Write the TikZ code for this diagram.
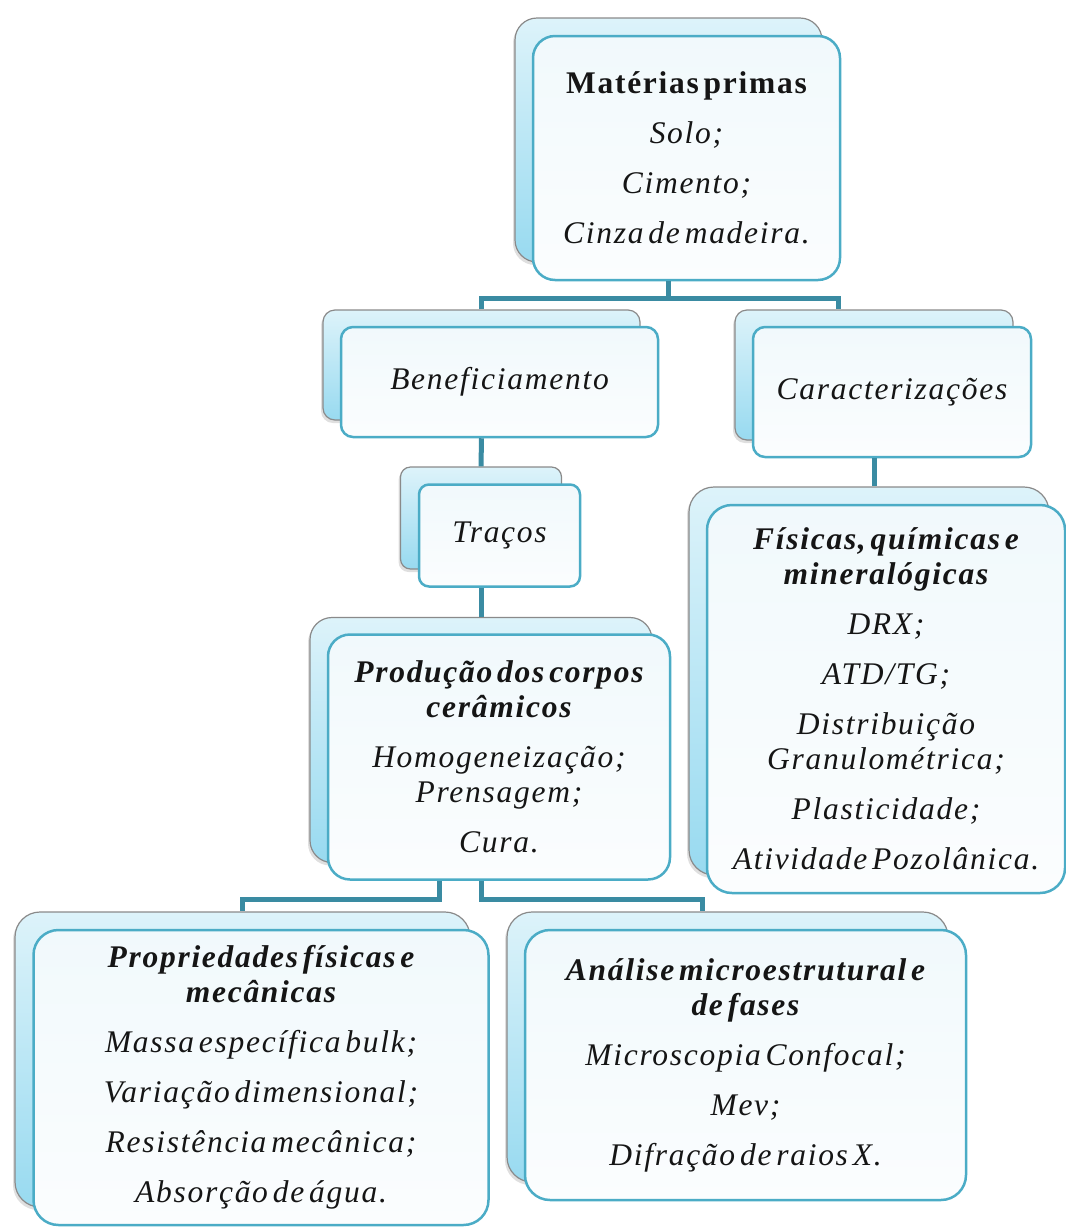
\documentclass[tikz,border=0pt]{standalone}
\usepackage{fontspec}
\setmainfont{Liberation Serif}[LetterSpace=5.5, WordSpace=0.5]
\usetikzlibrary{shadows,calc}
\definecolor{conncol}{HTML}{3A8BA2}
\definecolor{frontline}{HTML}{4BACC6}
\definecolor{frontTop}{HTML}{F1F9FC}
\definecolor{frontBot}{HTML}{FBFDFE}
\definecolor{backline}{HTML}{8A8A8A}
\definecolor{backTop}{HTML}{DDF3FA}
\definecolor{backBot}{HTML}{98DAF0}
\definecolor{txt}{HTML}{151515}
\begin{document}
\begin{tikzpicture}[x=1pt,y=-1pt,
  backbox/.style={draw=backline, line width=1.2pt, top color=backTop, bottom color=backBot,
    inner sep=0pt, drop shadow={shadow xshift=-2pt, shadow yshift=-3pt, opacity=0.25}},
  frontbox/.style={draw=frontline, line width=2.5pt, top color=frontTop, bottom color=frontBot,
    inner sep=0pt, align=center, text=txt, font=\fontsize{31.5}{35}\selectfont\itshape},
  conn/.style={draw=conncol, line width=5pt}
]
\useasboundingbox (0,0) rectangle (1066,1227);

% Matérias primas
\node[backbox, rounded corners=22pt, minimum width=307pt, minimum height=244pt] (matB) at (668.5,140) {};
\node[frontbox, rounded corners=22pt, minimum width=307pt, minimum height=244pt] (mat) at (686.5,158) {\textup{\bfseries Matérias primas}\\[15pt]Solo;\\[15pt]Cimento;\\[15pt]Cinza de madeira.};

% Beneficiamento
\node[backbox, rounded corners=12pt, minimum width=317pt, minimum height=110pt] (benB) at (481.5,365) {};
\node[frontbox, rounded corners=12pt, minimum width=317pt, minimum height=110pt] (ben) at (499.5,382) {Beneficiamento};

% Caracterizações
\node[backbox, rounded corners=12pt, minimum width=278pt, minimum height=130pt] (carB) at (874,375) {};
\node[frontbox, rounded corners=12pt, minimum width=278pt, minimum height=130pt] (car) at (892,392) {Caracterizações};

% Traços
\node[backbox, rounded corners=10pt, minimum width=161pt, minimum height=102pt] (traB) at (481,518) {};
\node[frontbox, rounded corners=10pt, minimum width=161pt, minimum height=102pt] (tra) at (499.5,535.5) {Traços};

% Produção
\node[backbox, rounded corners=22pt, minimum width=342pt, minimum height=245pt] (proB) at (481,740) {};
\node[frontbox, rounded corners=22pt, minimum width=342pt, minimum height=245pt] (pro) at (499,757) {\textbf{Produção dos corpos}\\\textbf{cerâmicos}\\[15pt]Homogeneização;\\Prensagem;\\[15pt]Cura.};

% Físicas
\node[backbox, rounded corners=25pt, minimum width=360pt, minimum height=388pt] (fisB) at (869,681) {};
\node[frontbox, rounded corners=25pt, minimum width=358pt, minimum height=388pt] (fis) at (886,699) {\textbf{Físicas, químicas e}\\\textbf{mineralógicas}\\[15pt]DRX;\\[15pt]ATD/TG;\\[15pt]Distribuição\\Granulométrica;\\[15pt]Plasticidade;\\[15pt]Atividade Pozolânica.};

% Propriedades
\node[backbox, rounded corners=25pt, minimum width=455pt, minimum height=295pt] (prpB) at (242.5,1059.5) {};
\node[frontbox, rounded corners=25pt, minimum width=455pt, minimum height=295pt] (prp) at (261,1077.5) {\textbf{Propriedades físicas e}\\\textbf{mecânicas}\\[15pt]Massa específica bulk;\\[15pt]Variação dimensional;\\[15pt]Resistência mecânica;\\[15pt]Absorção de água.};

% Análise
\node[backbox, rounded corners=25pt, minimum width=441pt, minimum height=270pt] (anaB) at (727.5,1047) {};
\node[frontbox, rounded corners=25pt, minimum width=441pt, minimum height=270pt] (ana) at (745.5,1065) {\textbf{Análise microestrutural e}\\\textbf{de fases}\\[15pt]Microscopia Confocal;\\[15pt]Mev;\\[15pt]Difração de raios X.};

% connectors
\coordinate (j1) at ($(matB.center |- mat.south)+(0,17)$);
\coordinate (cR) at ($(carB.north)+(-36,0)$);
\draw[conn] (matB.center |- mat.south) -- (j1);
\draw[conn] (benB.north) |- (cR |- j1) -- (cR);
\draw[conn] (benB.center |- ben.south) -- (traB.north);
\draw[conn] (carB.center |- car.south) -- (carB.center |- fisB.north);
\draw[conn] (traB.center |- tra.south) -- (proB.north);
\coordinate (pL) at ($(proB.center |- pro.south)+(-42,0)$);
\coordinate (pR) at (proB.center |- pro.south);
\coordinate (aT) at ($(anaB.north)+(-25,0)$);
\draw[conn] (pL) -- ++(0,19) -| (prpB.north);
\draw[conn] (pR) -- ++(0,19) -| (aT);
\end{tikzpicture}
\end{document}
